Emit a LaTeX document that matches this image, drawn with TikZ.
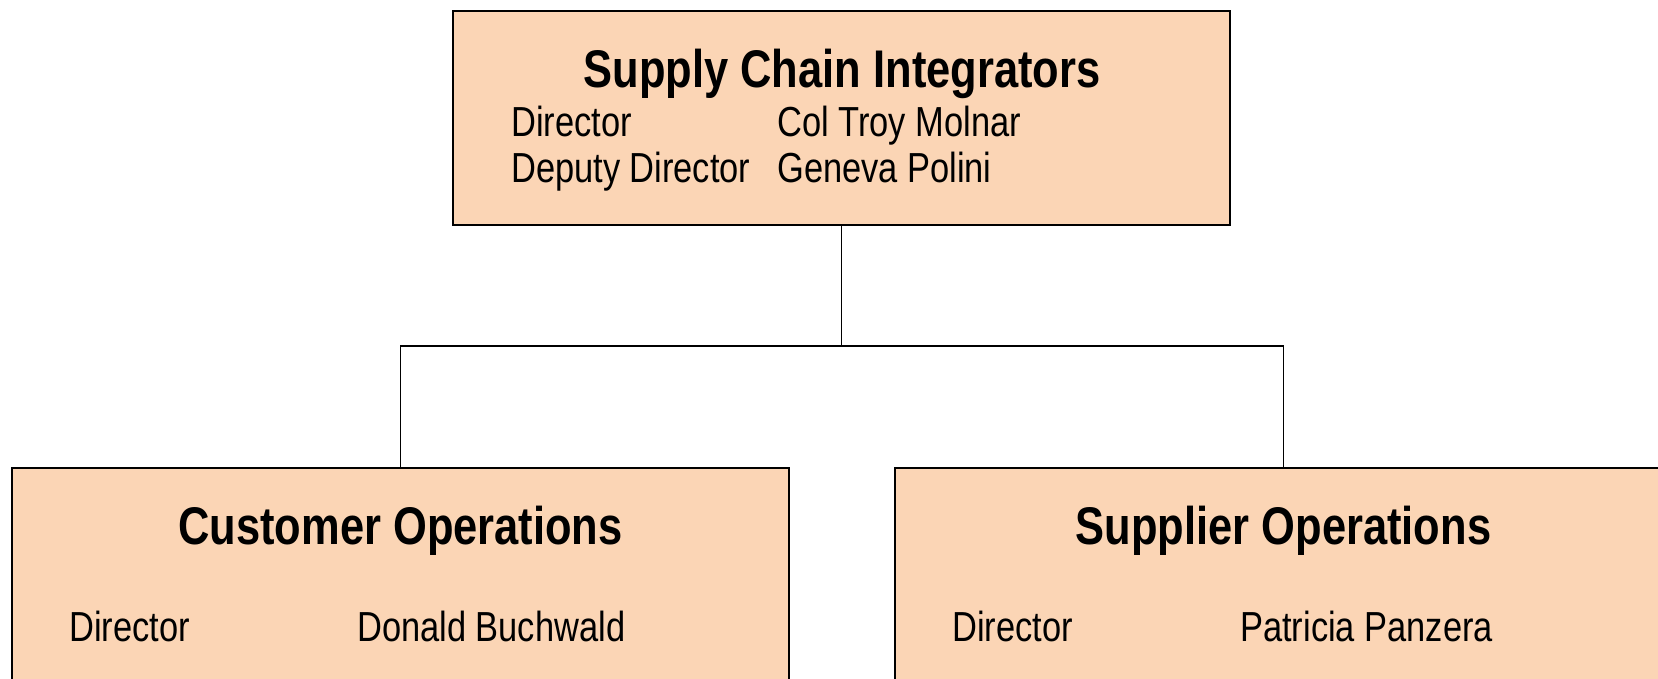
\documentclass[tikz,border=0pt]{standalone}
\usepackage{fontspec}
\setmainfont{Liberation Sans}[FakeStretch=0.82]
\usetikzlibrary{positioning}
\definecolor{peach}{RGB}{251,213,181}

\begin{document}
\begin{tikzpicture}[x=1pt,y=1pt,
    box/.style={draw, rectangle, fill=peach, line width=1.8pt, minimum width=777pt, inner sep=0pt},
    head/.style={anchor=base, inner sep=0pt, font=\fontsize{53}{60}\selectfont\bfseries},
    entry/.style={anchor=base west, inner sep=0pt, font=\fontsize{42}{48}\selectfont}]
    \useasboundingbox (0,0) rectangle (1658,-678);
    \clip (0,0) rectangle (1658,-678);

    % Boxes
    \node[box, minimum height=214pt] (sci) at (841.5,-118) {};
    \node[box, minimum height=300pt, anchor=north] (cust) at (400.5,-467) {};
    \node[box, minimum height=300pt, anchor=north] (supp) at (1283.5,-467) {};

    % Texts
    \node[head] (scihead) at (842,-87) {Supply Chain Integrators};
    \node[entry] (scidir) at (511,-136) {Director};
    \node[entry, right=266pt of scidir.base west, anchor=base west] (scidirname) {Col Troy Molnar};
    \node[entry, below=46pt of scidir.base west, anchor=base west] (scidep) {Deputy Director};
    \node[entry, right=266pt of scidep.base west, anchor=base west] (scidepname) {Geneva Polini};

    \node[head] (custhead) at (400.5,-544) {Customer Operations};
    \node[entry] (custdir) at (69,-641) {Director};
    \node[entry, right=288pt of custdir.base west, anchor=base west] (custname) {Donald Buchwald};

    \node[head] (supphead) at (1283.5,-544) {Supplier Operations};
    \node[entry] (suppdir) at (952,-641) {Director};
    \node[entry, right=288pt of suppdir.base west, anchor=base west] (suppname) {Patricia Panzera};

    % Lines
    \coordinate (split) at (841.5,-346);
    \draw[line width=1.5pt] (sci.south) -- (split);
    \draw[line width=1.5pt] (split) -| (cust.north);
    \draw[line width=1.5pt] (split) -| (supp.north);

\end{tikzpicture}
\end{document}
